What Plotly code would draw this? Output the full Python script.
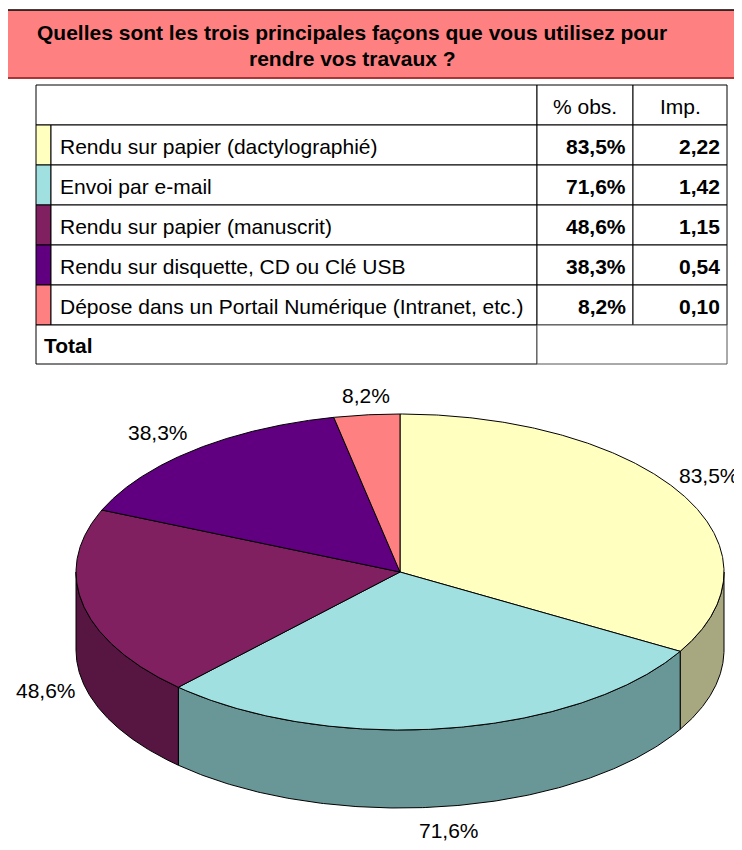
import numpy as np
import plotly.graph_objects as go

# ---------------- data ----------------
title_lines = ["Quelles sont les trois principales façons que vous utilisez pour",
               "rendre vos travaux ?"]
categories = ["Rendu sur papier (dactylographié)",
              "Envoi par e-mail",
              "Rendu sur papier (manuscrit)",
              "Rendu sur disquette, CD ou Clé USB",
              "Dépose dans un Portail Numérique (Intranet, etc.)"]
pct_obs = [83.5, 71.6, 48.6, 38.3, 8.2]
importance = [2.22, 1.42, 1.15, 0.54, 0.10]
col_headers = ["% obs.", "Imp."]
total_label = "Total"

# ---------------- styles ----------------
top_colors = ["#FFFFC0", "#A0E0E0", "#802060", "#600080", "#FF8080"]
side_colors = ["#A8A880", "#699696", "#571541", "#40005A", "#AA5555"]
FONT = "Liberation Sans, Arial, sans-serif"
FS = 21
W, H = 742, 850
OFF = 8  # page body margin: data coords == window pixels

# pie geometry (pixels)
CX, CY, RX, RY, DEPTH = 400, 572, 324, 158, 78
# label placement (layout, pixels) : (x, y, xanchor)
label_xy = [(741, 475, "right"), (449, 830, "center"), (46, 690, "center"),
            (158, 432, "center"), (366, 395, "center")]

# table geometry (pixels)
TX0, TXSW, TXL, TXC, TX1 = 36, 51, 537, 633, 727
TY0, ROWH = 85, 40


def fr_pct(v):
    return f"{v:.1f}".replace(".", ",") + "%"


def fr_num(v):
    return f"{v:.2f}".replace(".", ",")


def ell(t_deg, dy=0.0):
    t = np.radians(t_deg)
    return CX + RX * np.sin(t), CY - RY * np.cos(t) + dy


fig = go.Figure()

# --- pie angles from data ---
vals = np.array(pct_obs, dtype=float)
bounds = np.concatenate([[0.0], np.cumsum(vals)]) / vals.sum() * 360.0

# side walls (front half only)
for i in range(len(vals)):
    lo, hi = max(bounds[i], 90.0), min(bounds[i + 1], 270.0)
    if hi <= lo:
        continue
    ts = np.linspace(lo, hi, 200)
    xt, yt = ell(ts)
    xb, yb = ell(ts[::-1], DEPTH)
    xs = np.concatenate([xt, xb, xt[:1]])
    ys = np.concatenate([yt, yb, yt[:1]])
    fig.add_trace(go.Scatter(x=xs, y=ys, mode="lines", fill="toself",
                             fillcolor=side_colors[i],
                             line=dict(color="black", width=1),
                             hoverinfo="skip", showlegend=False))

# top faces
for i in range(len(vals)):
    ts = np.linspace(bounds[i], bounds[i + 1], 300)
    xa, ya = ell(ts)
    xs = np.concatenate([[CX], xa, [CX]])
    ys = np.concatenate([[CY], ya, [CY]])
    fig.add_trace(go.Scatter(x=xs, y=ys, mode="lines", fill="toself",
                             fillcolor=top_colors[i],
                             line=dict(color="black", width=1),
                             hoverinfo="skip", showlegend=False))

shapes = []
annotations = []

# outer frame and title bar
shapes.append(dict(type="rect", x0=6, x1=W + 20, y0=10, y1=78, xref="x", yref="y",
                   fillcolor="#FF8080", line=dict(color="black", width=1.5), layer="below"))
shapes.append(dict(type="line", x0=6, x1=W + 20, y0=78, y1=78, xref="x", yref="y",
                   line=dict(color="#C83C3C", width=1.5)))
shapes.append(dict(type="line", x0=6, x1=6, y0=10, y1=H + 20, xref="x", yref="y",
                   line=dict(color="black", width=1.5)))

title_y = [32, 58]
for line, ty in zip(title_lines, title_y):
    annotations.append(dict(x=352, y=ty, xref="x", yref="y", text=f"<b>{line}</b>",
                            showarrow=False, xanchor="center", yanchor="middle",
                            font=dict(family=FONT, size=FS, color="black")))


def cell(x0, x1, y0, y1, fill="white", color="black"):
    shapes.append(dict(type="rect", x0=x0, x1=x1, y0=y0, y1=y1, xref="x", yref="y",
                       fillcolor=fill, line=dict(color=color, width=1), layer="below"))


# header row
cell(TX0, TXL, TY0, TY0 + ROWH)
cell(TXL, TXC, TY0, TY0 + ROWH)
cell(TXC, TX1, TY0, TY0 + ROWH)
annotations.append(dict(x=(TXL + TXC) / 2, y=TY0 + ROWH / 2 + 1, xref="x", yref="y",
                        text=col_headers[0], showarrow=False,
                        font=dict(family=FONT, size=FS, color="black")))
annotations.append(dict(x=(TXC + TX1) / 2, y=TY0 + ROWH / 2 + 1, xref="x", yref="y",
                        text=col_headers[1], showarrow=False,
                        font=dict(family=FONT, size=FS, color="black")))

# data rows
for i, (cat, p, imp) in enumerate(zip(categories, pct_obs, importance)):
    y0 = TY0 + ROWH * (i + 1)
    y1 = y0 + ROWH
    ym = (y0 + y1) / 2 + 1
    cell(TX0, TXSW, y0, y1, fill=top_colors[i])
    cell(TXSW, TXL, y0, y1)
    cell(TXL, TXC, y0, y1)
    cell(TXC, TX1, y0, y1)
    annotations.append(dict(x=TXSW + 7, y=ym, xref="x", yref="y", text=cat,
                            showarrow=False, xanchor="left",
                            font=dict(family=FONT, size=FS, color="black")))
    annotations.append(dict(x=TXC - 5, y=ym, xref="x", yref="y", text=f"<b>{fr_pct(p)}</b>",
                            showarrow=False, xanchor="right",
                            font=dict(family=FONT, size=FS, color="black")))
    annotations.append(dict(x=TX1 - 5, y=ym, xref="x", yref="y", text=f"<b>{fr_num(imp)}</b>",
                            showarrow=False, xanchor="right",
                            font=dict(family=FONT, size=FS, color="black")))

# total row
ty0 = TY0 + ROWH * (len(categories) + 1)
cell(TX0, TXL, ty0, ty0 + ROWH - 1)
cell(TXL, TX1, ty0, ty0 + ROWH - 1, color="#555555")
annotations.append(dict(x=TX0 + 6, y=ty0 + ROWH / 2, xref="x", yref="y",
                        text=f"<b>{total_label}</b>", showarrow=False, xanchor="left",
                        font=dict(family=FONT, size=FS, color="black")))

# pie labels
for p, (lx, ly, anc) in zip(pct_obs, label_xy):
    annotations.append(dict(x=lx, y=ly, xref="x", yref="y", text=fr_pct(p),
                            showarrow=False, xanchor=anc, yanchor="middle",
                            font=dict(family=FONT, size=FS, color="black")))

fig.update_layout(
    width=W, height=H, autosize=False,
    margin=dict(l=0, r=0, t=0, b=0, pad=0),
    paper_bgcolor="white", plot_bgcolor="white",
    xaxis=dict(range=[OFF, W + OFF], visible=False, fixedrange=True),
    yaxis=dict(range=[H + OFF, OFF], visible=False, fixedrange=True),
    shapes=shapes, annotations=annotations,
    showlegend=False, hovermode=False,
)

fig.write_html("out.html", config={"displayModeBar": False})
